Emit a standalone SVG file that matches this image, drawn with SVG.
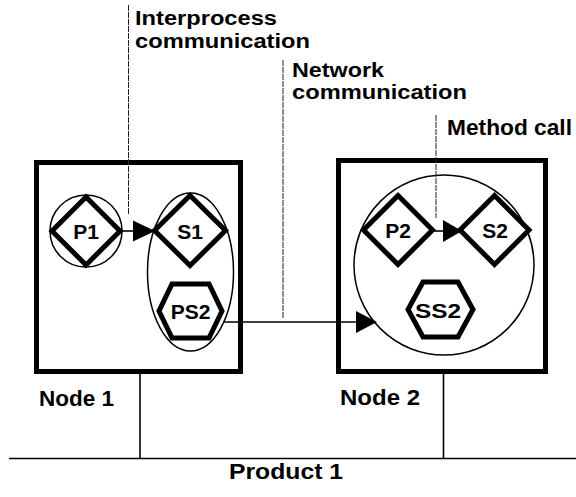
<svg xmlns="http://www.w3.org/2000/svg" width="576" height="497" viewBox="0 0 576 497">
<style>
.box{fill:none;stroke:#000;stroke-width:5}
.thick{fill:#fff;stroke:#000;stroke-width:5;stroke-linejoin:miter}
.thin{fill:none;stroke:#000;stroke-width:1.5}
.call{fill:none;stroke:#222;stroke-width:1;stroke-dasharray:6 1}
.line{fill:none;stroke:#000;stroke-width:1.6}
.head{fill:#000;stroke:none}
.lbl{font-family:"Liberation Sans",Arial,sans-serif;font-weight:bold;font-size:22px;fill:#000}
.lbl2{font-family:"Liberation Sans",Arial,sans-serif;font-weight:bold;font-size:20px;fill:#000}
.in{font-family:"Liberation Sans",Arial,sans-serif;font-weight:bold;font-size:21px;fill:#000;text-anchor:middle}
</style>
<rect width="576" height="497" fill="#fff"/>
<g id="product1">
<line class="line" x1="9" y1="458.5" x2="576" y2="458.5"/>
<line class="line" x1="140" y1="374" x2="140" y2="458"/>
<line class="line" x1="443.5" y1="374" x2="443.5" y2="458"/>
<text class="lbl" x="229" y="479" textLength="114" lengthAdjust="spacingAndGlyphs">Product 1</text>
</g>
<g id="node1">
<rect class="box" x="36.5" y="162.5" width="204" height="209"/>
<text class="lbl" x="39" y="406" textLength="75" lengthAdjust="spacingAndGlyphs">Node 1</text>
</g>
<g id="node2">
<rect class="box" x="338.5" y="160.5" width="207" height="211"/>
<text class="lbl" x="340" y="405" textLength="80" lengthAdjust="spacingAndGlyphs">Node 2</text>
</g>
<g id="p1">
<circle class="thin" cx="86" cy="231" r="36"/>
<polygon class="thick" points="86,197 120,231 86,265 52,231"/>
<text class="in" x="86" y="239">P1</text>
</g>
<g id="s1-group">
<ellipse class="thin" cx="190.5" cy="272" rx="43" ry="79"/>
</g>
<g id="s1">
<polygon class="thick" points="190,195.5 225.5,230.5 190,265.5 154.5,230.5"/>
<text class="in" x="190" y="239">S1</text>
</g>
<g id="ps2">
<polygon class="thick" points="172,284 209,284 222,311 209,338 172,338 159,311"/>
<text class="in" x="190.5" y="319">PS2</text>
</g>
<g id="node2-group">
<circle class="thin" cx="444" cy="265" r="90"/>
</g>
<g id="p2">
<polygon class="thick" points="398,195.5 432.5,230 398,264.5 363.5,230"/>
<text class="in" x="398" y="238">P2</text>
</g>
<g id="s2">
<polygon class="thick" points="494.5,195.5 529,230 494.5,264.5 460,230"/>
<text class="in" x="495" y="238">S2</text>
</g>
<g id="ss2">
<polygon class="thick" points="423,282 458,282 473,309.5 458,337 423,337 408,309.5"/>
<text class="in" x="438" y="318" textLength="46" lengthAdjust="spacingAndGlyphs">SS2</text>
</g>
<g id="connectors">
<line class="line" x1="121" y1="231" x2="135" y2="231"/>
<polygon class="head" points="133,220.5 155,231 133,241.5"/>
<line class="line" x1="223" y1="322" x2="357" y2="322"/>
<polygon class="head" points="356,311 377,322 356,333"/>
<line class="line" x1="432" y1="231" x2="445" y2="231"/>
<polygon class="head" points="443,220 462,231 443,242"/>
</g>
<g id="callouts">
<line class="call" x1="128.5" y1="5" x2="128.5" y2="215"/>
<text class="lbl2"><tspan x="135" y="25" textLength="142" lengthAdjust="spacingAndGlyphs">Interprocess</tspan><tspan x="135" y="48" textLength="175" lengthAdjust="spacingAndGlyphs">communication</tspan></text>
<line class="call" x1="283" y1="60" x2="283" y2="318"/>
<text class="lbl2"><tspan x="292" y="76.5" textLength="92" lengthAdjust="spacingAndGlyphs">Network</tspan><tspan x="292" y="99" textLength="175" lengthAdjust="spacingAndGlyphs">communication</tspan></text>
<line class="call" x1="436" y1="115" x2="436" y2="218"/>
<text class="lbl" x="447" y="135" textLength="125" lengthAdjust="spacingAndGlyphs">Method call</text>
</g>
</svg>
